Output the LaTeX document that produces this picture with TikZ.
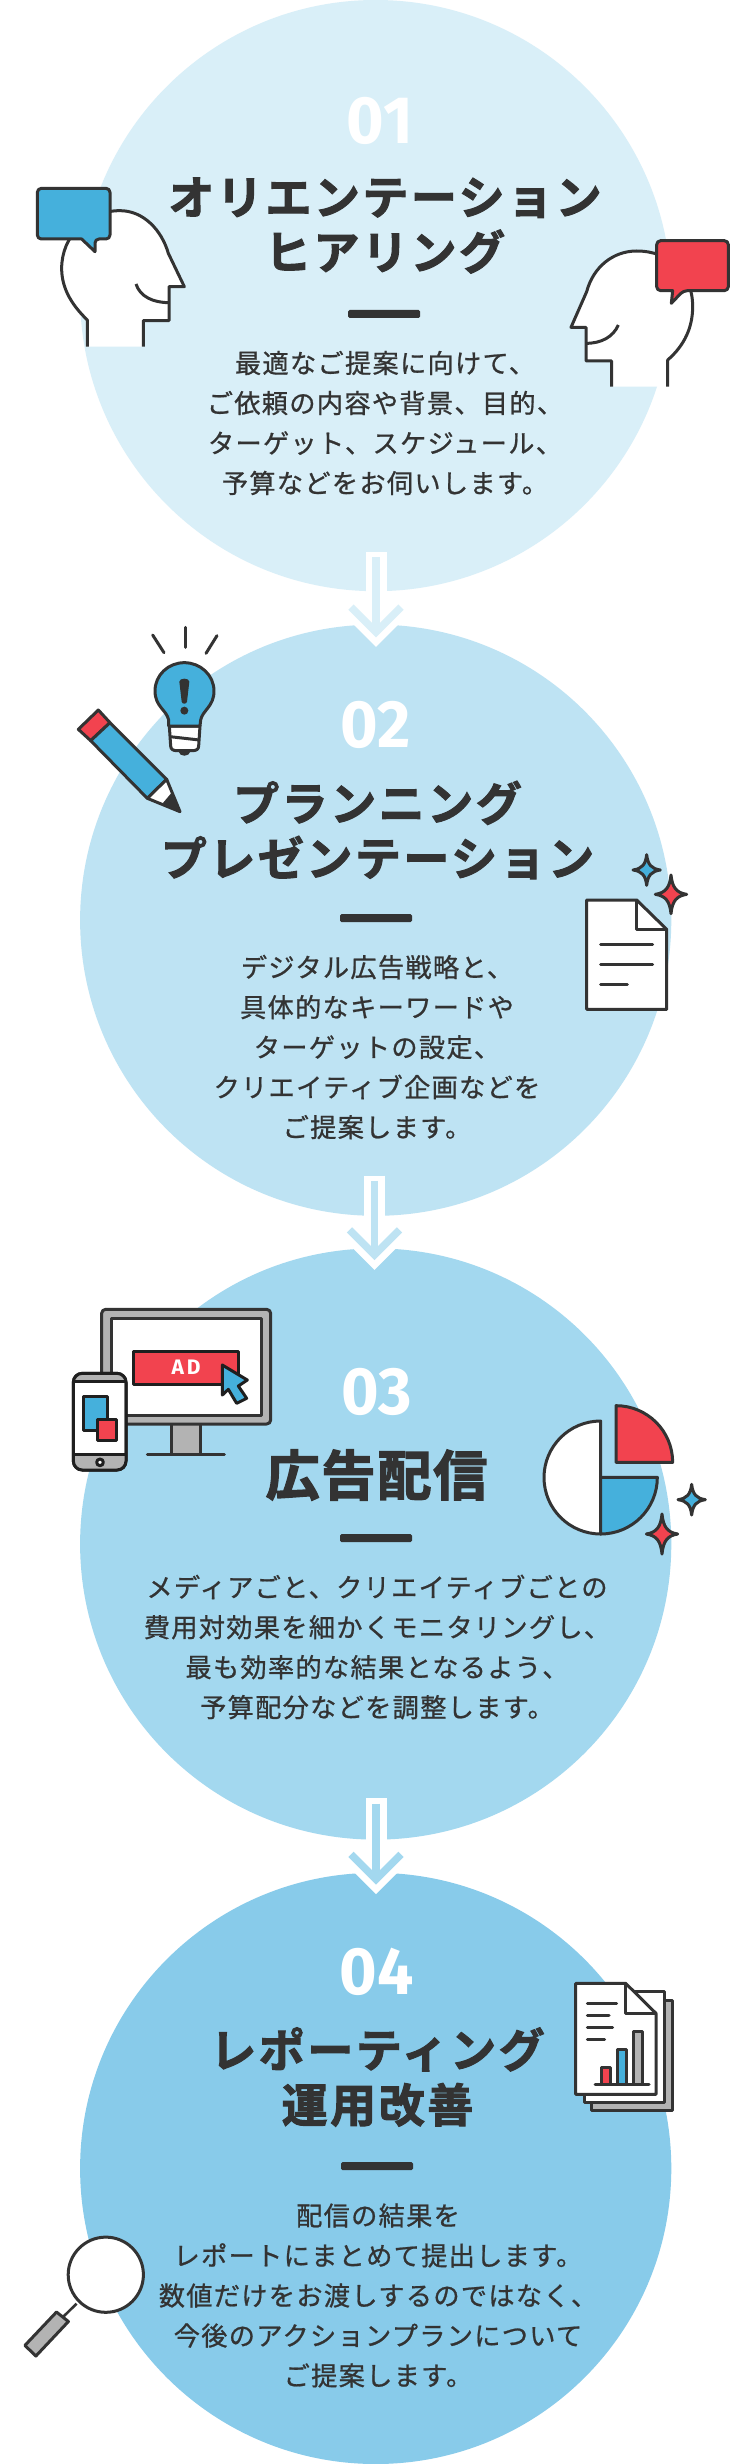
\documentclass[tikz,border=0pt]{standalone}
\usepackage{fontspec}
\usetikzlibrary{calc}
\newfontfamily\jpbody[LetterSpace=5,FakeBold=0.8]{Noto Sans CJK JP}
\newfontfamily\jptitle[LetterSpace=5.5,FakeBold=2.2]{Noto Sans CJK JP Bold}
\newfontfamily\jpbig[LetterSpace=3.5,FakeBold=2.6]{Noto Sans CJK JP Bold}
\newfontfamily\numfont[FakeStretch=0.96]{Fira Sans Bold}
\newfontfamily\adfont[LetterSpace=14]{Fira Sans Bold}
\definecolor{dark}{HTML}{333333}
\definecolor{ink}{HTML}{1F1F1F}
\definecolor{cA}{HTML}{D9EFF8}
\definecolor{cB}{HTML}{BEE3F3}
\definecolor{cC}{HTML}{A3D8EF}
\definecolor{cD}{HTML}{88CBEA}
\definecolor{iblue}{HTML}{45B0DC}
\definecolor{ired}{HTML}{F2434F}
\definecolor{igray}{HTML}{B3B3B3}
\tikzset{
  disc/.style={circle,inner sep=0pt,outer sep=0pt,minimum size=591.2pt},
  num/.style={text=white,font=\fontsize{67}{67}\selectfont\numfont,inner sep=0pt},
  head1/.style={text=dark,align=center,inner sep=0pt,font=\fontsize{46}{55}\selectfont\jptitle},
  headbig/.style={text=dark,align=center,inner sep=0pt,font=\fontsize{54}{60}\selectfont\jpbig},
  bodytxt/.style={text=dark,align=center,inner sep=0pt,font=\fontsize{26.2}{40}\selectfont\jpbody},
  rulebar/.style={fill=dark,rounded corners=1.5pt,inner sep=0pt,minimum width=72pt,minimum height=8pt},
  halo/.style={draw=white,line width=21pt,line cap=butt,miter limit=10},
  ic/.style={draw=dark,line width=3pt,line join=round},
  icb/.style={draw=ink,line width=3pt,line join=round},
  thin/.style={draw=dark,line width=3pt,line cap=round},
}
\newcommand{\chevarrow}[3]{%
  \draw[halo] ($(#1)+(0,-5.3)$) -- (#2);
  \draw[halo] ($(#2)+(-25,-25)$) -- (#2) -- ($(#2)+(25,-25)$);
  \draw[draw=#3,line width=7.4pt,miter limit=10] (#1) -- (#2);
  \draw[draw=#3,line width=7.5pt,miter limit=10] ($(#2)+(-25,-25)$) -- (#2) -- ($(#2)+(25,-25)$);
}
\newcommand{\sparkle}[5]{%
  \begin{scope}[shift={(#1,#2)},xscale=#3,yscale=#4]
  \draw[draw=dark,line width=3pt,line join=round,fill=#5]
    (0,-1) .. controls (.08,-.35) and (.35,-.08) .. (1,0)
    .. controls (.35,.08) and (.08,.35) .. (0,1)
    .. controls (-.08,.35) and (-.35,.08) .. (-1,0)
    .. controls (-.35,-.08) and (-.08,-.35) .. (0,-1) -- cycle;
  \end{scope}}
\begin{document}
\begin{tikzpicture}[x=1pt,y=-1pt]
\useasboundingbox[fill=white] (0,0) rectangle (750,2464);
% discs
\node[disc,fill=cA] (c1) at (375.7,295.6) {};
\node[disc,fill=cB] (c2) at (375.7,920.2) {};
\node[disc,fill=cC] (c3) at (375.7,1544) {};
\node[disc,fill=cD] (c4) at (375.7,2168.4) {};
% connectors
\coordinate (a1s) at ($(c1.south)+(0.3,-34)$);
\coordinate (a1e) at ($(c2.north)+(0.3,7.5)$);
\coordinate (a2s) at ($(c2.south)+(-1.2,-35)$);
\coordinate (a2e) at ($(c3.north)+(-1.2,6.5)$);
\coordinate (a3s) at ($(c3.south)+(0.3,-36)$);
\coordinate (a3e) at ($(c4.north)+(0.3,6.5)$);
\chevarrow{a1s}{a1e}{cA}
\chevarrow{a2s}{a2e}{cB}
\chevarrow{a3s}{a3e}{cC}
% step 1
\node[num] (n1) at (380,120.6) {01};
\node[head1] (t1) at (385,225.5) {オリエンテーション\\ヒアリング};
\node[rulebar] (b1) at (384,314) {};
\node[bodytxt] (d1) at (385,423) {最適なご提案に向けて、\\ご依頼の内容や背景、目的、\\ターゲット、スケジュール、\\予算などをお伺いします。};
% step 2
\node[num] (n2) at (375.6,724.6) {02};
\node[head1] (t2) at (377.5,830) {プランニング\\プレゼンテーション};
\node[rulebar] (b2) at (376,918) {};
\node[bodytxt] (d2) at (377,1047) {デジタル広告戦略と、\\具体的なキーワードや\\ターゲットの設定、\\クリエイティブ企画などを\\ご提案します。};
% step 3
\node[num] (n3) at (376.5,1392) {03};
\node[headbig] (t3) at (376.5,1475) {広告配信};
\node[rulebar] (b3) at (376,1538) {};
\node[bodytxt] (d3) at (377,1647) {メディアごと、クリエイティブごとの\\費用対効果を細かくモニタリングし、\\最も効率的な結果となるよう、\\予算配分などを調整します。};
% step 4
\node[num] (n4) at (376.5,1972) {04};
\node[head1] (t4) at (377.5,2077) {レポーティング\\運用改善};
\node[rulebar] (b4) at (377,2166) {};
\node[bodytxt] (d4) at (378,2295.5) {配信の結果を\\レポートにまとめて提出します。\\数値だけをお渡しするのではなく、\\今後のアクションプランについて\\ご提案します。};

% head left + bubble
\begin{scope}[shift={(20,170)},scale=0.33333]
\fill[white] (202,530) -- (202,450) .. controls (150,400) and (125,350) .. (125,295) .. controls (125,200) and (200,122) .. (300,122) .. controls (370,122) and (425,180) .. (445,250) -- (493,350) -- (447,350) -- (447,452) -- (370,452) -- (370,530) -- cycle;
\draw[ic] (202,530) -- (202,450) .. controls (150,400) and (125,350) .. (125,295) .. controls (125,200) and (200,122) .. (300,122) .. controls (370,122) and (425,180) .. (445,250) -- (493,350) -- (447,350) -- (447,452) -- (370,452) -- (370,530);
\draw[ic] (348,342) .. controls (360,380) and (400,398) .. (447,398);
\draw[ic,fill=iblue,rounded corners=4pt] (52,55) -- (270,55) -- (270,207) -- (225,207) [sharp corners] -- (225,245) -- (185,207) [rounded corners=4pt] -- (52,207) -- cycle;
\end{scope}
% head right + bubble
\begin{scope}[shift={(560,220)},scale=0.33333]
\fill[white] (323,500) -- (323,420) .. controls (375,375) and (398,320) .. (398,260) .. controls (398,160) and (330,93) .. (230,93) .. controls (160,93) and (100,140) .. (80,215) -- (33,322) -- (78,322) -- (78,423) -- (155,423) -- (155,500) -- cycle;
\draw[ic] (323,500) -- (323,420) .. controls (375,375) and (398,320) .. (398,260) .. controls (398,160) and (330,93) .. (230,93) .. controls (160,93) and (100,140) .. (80,215) -- (33,322) -- (78,322) -- (78,423) -- (155,423) -- (155,500);
\draw[ic] (175,315) .. controls (160,350) and (125,370) .. (78,370);
\draw[ic,fill=ired,rounded corners=4pt] (290,62) -- (505,62) -- (505,212) -- (370,212) [sharp corners] -- (334,250) -- (338,212) [rounded corners=4pt] -- (290,212) -- cycle;
\end{scope}
% bulb and pencil
\begin{scope}[shift={(70,620)},scale=0.33333]
\draw[thin] (345,22) -- (345,82);
\draw[thin] (248,45) -- (282,98);
\draw[thin] (441,47) -- (408,100);
\draw[ic,fill=white] (298,318) -- (302,378) .. controls (302,388) and (310,392) .. (320,392) -- (368,392) .. controls (378,392) and (386,388) .. (386,378) -- (390,318) -- cycle;
\draw[ic] (300,350) -- (388,360);
\fill[dark] (325,393) .. controls (328,412) and (358,412) .. (362,393) -- cycle;
\draw[ic,fill=iblue] (296,318) -- (296,300) .. controls (290,270) and (255,260) .. (255,213) .. controls (255,165) and (295,128) .. (343,128) .. controls (391,128) and (432,165) .. (432,213) .. controls (432,260) and (398,270) .. (392,300) -- (390,318) -- cycle;
\fill[dark] (328,185) .. controls (328,173) and (358,173) .. (358,185) -- (351,245) .. controls (350,253) and (336,253) .. (335,245) -- cycle;
\fill[dark] (343,272) circle[radius=12];
\draw[ic,fill=ired] (25,328) -- (85,270) -- (120,308) -- (62,362) -- cycle;
\draw[ic,fill=iblue] (62,362) -- (120,308) -- (290,478) -- (232,535) -- cycle;
\draw[ic,fill=white] (232,535) -- (290,478) -- (330,575) -- cycle;
\fill[dark] (305,518) -- (278,550) -- (330,575) -- cycle;
\end{scope}
% document and sparkles
\begin{scope}[shift={(570,840)},scale=0.33333]
\sparkle{230}{90}{41}{46}{iblue}
\sparkle{303}{163}{47}{58}{ired}
\draw[ic,fill=white] (50,180) -- (200,180) -- (290,268) -- (290,508) -- (50,508) -- cycle;
\draw[ic] (200,180) -- (200,268) -- (290,268);
\draw[thin] (92,314) -- (248,314);
\draw[thin] (92,374) -- (248,374);
\draw[thin] (92,433) -- (172,433);
\end{scope}
% monitor and phone
\begin{scope}[shift={(60,1300)},scale=0.33333]
\fill[igray] (335,372) rectangle (420,462);
\draw[ic] (335,372) -- (335,462) (420,372) -- (420,462);
\draw[thin] (262,462) -- (493,462);
\draw[ic,fill=igray,rounded corners=4pt] (125,28) rectangle (632,372);
\draw[ic,fill=white] (155,55) rectangle (605,345);
\draw[icb,fill=ired] (220,155) rectangle (535,252);
\node[text=white,font=\fontsize{21}{21}\selectfont\adfont,inner sep=0pt] (adl) at (378,203) {AD};
\draw[icb,fill=iblue] (487,195) -- (562,240) -- (535,258) -- (560,295) -- (530,310) -- (505,268) -- (487,285) -- cycle;
\draw[icb,fill=white,rounded corners=9pt] (40,220) rectangle (198,510);
\begin{scope}
\clip[rounded corners=9pt] (40,220) rectangle (198,510);
\fill[igray] (40,220) rectangle (198,245);
\fill[igray] (40,462) rectangle (198,510);
\end{scope}
\draw[icb] (40,245) -- (198,245) (40,462) -- (198,462);
\draw[icb,rounded corners=9pt] (40,220) rectangle (198,510);
\draw[icb,fill=white] (120,487) circle[radius=10];
\draw[icb,fill=iblue] (70,288) rectangle (142,392);
\draw[icb,fill=ired] (112,357) rectangle (170,422);
\end{scope}
% pie and sparkles
\begin{scope}[shift={(530,1390)},scale=0.33333]
\draw[ic,fill=white] (212,93) .. controls (118,93) and (42,169) .. (42,262.5) .. controls (42,356) and (118,432) .. (212,432) -- cycle;
\draw[ic,fill=iblue] (212,262) -- (382,262) .. controls (382,356) and (306,432) .. (212,432) -- cycle;
\draw[ic,fill=ired] (258,217) -- (258,47) .. controls (352,47) and (428,123) .. (428,217) -- cycle;
\sparkle{485}{329}{41}{46}{iblue}
\sparkle{396}{432}{47}{60}{ired}
\end{scope}
% report pages
\begin{scope}[shift={(560,1970)},scale=0.33333]
\draw[ic,fill=igray] (95,90) rectangle (337,420);
\draw[ic,fill=white] (72,65) rectangle (313,397);
\draw[ic,fill=white] (47,40) -- (197,40) -- (288,130) -- (288,373) -- (47,373) -- cycle;
\draw[ic] (197,40) -- (197,130) -- (288,130);
\draw[thin] (82,101) -- (170,101);
\draw[thin] (82,137) -- (147,137);
\draw[thin] (82,173) -- (158,173);
\draw[thin] (82,209) -- (134,209);
\draw[ic,fill=ired] (125,342) rectangle (151,292);
\draw[ic,fill=iblue] (172,342) rectangle (199,238);
\draw[ic,fill=igray] (220,342) rectangle (247,185);
\draw[thin] (105,342) -- (267,342);
\end{scope}
% magnifier
\draw[draw=dark,line width=2.6pt] (76.6,2303.6) -- (62,2318);
\draw[ic,fill=igray] (56.5,2312) -- (68.4,2321.5) -- (35.9,2356) -- (24.9,2345.4) -- cycle;
\draw[ic,fill=white] (105.8,2274.7) circle[radius=37.6];
\end{tikzpicture}
\end{document}
